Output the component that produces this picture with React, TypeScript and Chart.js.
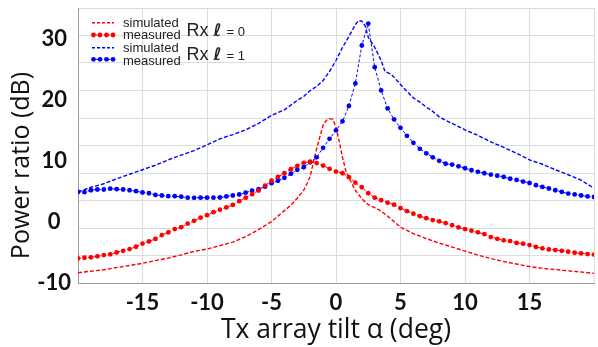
import React, { useEffect, useRef } from "react";
import { Chart, registerables } from "chart.js";

Chart.register(...registerables);

// x positions of measured samples (deg)
const measuredX = [
  -20, -19.5, -19, -18.5, -18, -17.5, -17, -16.5, -16, -15.5, -15, -14.5, -14, -13.5, -13, -12.5, -12, -11.5, -11, -10.5,
  -10, -9.5, -9, -8.5, -8, -7.5, -7, -6.5, -6, -5.5, -5, -4.5, -4, -3.5, -3, -2.5, -2, -1.5, -1, -0.5,
  0, 0.5, 1, 1.5, 2, 2.5, 3, 3.5, 4, 4.5, 5, 5.5, 6, 6.5, 7, 7.5, 8, 8.5, 9, 9.5,
  10, 10.5, 11, 11.5, 12, 12.5, 13, 13.5, 14, 14.5, 15, 15.5, 16, 16.5, 17, 17.5, 18, 18.5, 19, 19.5, 20,
];

// Rx l=0 measured (dB)
const redMeasured = [
  -5.97, -5.87, -5.8, -5.64, -5.43, -5.31, -4.99, -4.73, -4.45, -4.07, -3.55, -3.19, -2.78, -2.16, -1.72, -1.18, -0.86, -0.29, 0.17, 0.69,
  1.1, 1.59, 2.0, 2.36, 2.78, 3.39, 3.96, 4.53, 5.13, 5.95, 6.73, 7.36, 7.96, 8.61, 9.15, 9.67, 9.84, 9.62, 9.22, 8.69,
  8.24, 7.96, 7.31, 6.41, 5.67, 4.69, 3.96, 3.55, 3.14, 2.82, 2.24, 1.76, 1.35, 0.94, 0.61, 0.29, 0.09, -0.2, -0.53, -0.91,
  -1.18, -1.43, -1.71, -2.0, -2.49, -2.77, -3.01, -3.14, -3.44, -3.57, -3.8, -4.09, -4.33, -4.5, -4.61, -4.73, -4.89, -5.05, -5.15, -5.27, -5.35,
];

// Rx l=1 measured (dB)
const blueMeasured = [
  4.91, 4.86, 5.18, 5.3, 5.3, 5.43, 5.35, 5.3, 5.18, 5.02, 4.81, 4.69, 4.42, 4.32, 4.2, 4.2, 4.12, 3.96, 3.93, 3.96,
  3.96, 3.96, 3.99, 4.16, 4.32, 4.48, 4.78, 5.1, 5.35, 5.76, 6.33, 6.73, 7.22, 7.88, 8.53, 8.94, 9.76, 10.57, 12.12, 13.59,
  14.98, 16.45, 18.98, 22.65, 28.86, 32.45, 25.31, 21.51, 18.57, 16.78, 15.39, 14.08, 12.94, 11.96, 11.22, 10.57, 10.0, 9.51, 9.38, 9.1,
  8.78, 8.45, 8.2, 7.96, 7.75, 7.55, 7.36, 7.06, 6.87, 6.6, 6.36, 6.0, 5.72, 5.46, 5.18, 4.91, 4.64, 4.5, 4.32, 4.16, 4.07,
];

// Rx l=0 simulated
const redSimX = [
  -20, -19, -18, -17, -16, -15, -14, -13, -12, -11, -10, -9, -8, -7, -6, -5, -4,
  -3.5, -3, -2.5, -2.25, -2, -1.75, -1.5, -1.25, -1, -0.75, -0.5, -0.25, 0, 0.25, 0.5, 0.75, 1,
  1.5, 2, 2.5, 3, 3.5, 4, 4.5, 5,
  6, 7, 8, 9, 10, 11, 12, 13, 14, 15, 16, 17, 18, 19, 20,
];
const redSim = [
  -8.32, -8.07, -7.84, -7.47, -7.14, -6.78, -6.33, -5.92, -5.4, -4.82, -4.45, -3.88, -3.31, -2.41, -1.27, 0.04, 1.84,
  2.73, 3.88, 5.18, 6.24, 7.47, 9.76, 11.96, 13.92, 15.8, 16.61, 16.89, 16.78, 15.47, 13.18, 10.57, 8.45, 7.22,
  5.18, 3.8, 2.82, 2.33, 1.76, 0.94, 0.04, -0.86,
  -1.92, -2.73, -3.47, -4.12, -4.78, -5.43, -6.0, -6.49, -6.9, -7.31, -7.6, -7.8, -8.01, -8.2, -8.42,
];

// Rx l=1 simulated
const blueSimX = [
  -20, -19, -18, -17, -16, -15, -14, -13, -12, -11, -10, -9, -8, -7, -6, -5, -4, -3,
  -2.5, -2, -1.5, -1, -0.5, 0, 0.5, 1, 1.5, 1.75, 2, 2.25, 2.5, 3, 3.5, 3.8, 4.3,
  5, 5.5, 6, 6.5, 7, 7.5, 8, 8.5, 9,
  10, 11, 12, 13, 14, 15, 16, 17, 18, 19, 20,
];
const blueSim = [
  4.91, 5.67, 6.24, 7.06, 7.8, 8.53, 9.27, 10.16, 10.93, 11.67, 12.61, 13.59, 14.29, 15.06, 16.12, 17.43, 18.33, 19.88,
  20.53, 21.51, 22.16, 23.14, 24.61, 26.41, 28.53, 30.33, 32.29, 32.94, 32.86, 32.12, 30.21, 28.58, 26.41, 24.61, 24.12,
  22.49, 21.35, 20.29, 19.6, 18.78, 18.08, 17.18, 16.61, 16.12,
  15.06, 14.16, 13.1, 12.2, 11.22, 10.16, 9.43, 8.53, 7.71, 6.82, 5.51,
];

const xTickHidden = [-20, 20];
const yTitleText = "Power ratio (dB)";
const xTitleText = "Tx array tilt α (deg)";

const RED = "#ff0000";
const BLUE = "#0000ff";
const GRID = "#dcdcdc";
const AXIS = "#9a9a9a";
const TITLE_FONT = "'Open Sans'";

const pts = (xs: number[], ys: number[]) => xs.map((x, i) => ({ x, y: ys[i] }));

const yTitlePlugin = {
  id: "yTitle",
  afterDraw(chart: any) {
    const { ctx, chartArea } = chart;
    ctx.save();
    ctx.translate(22, (chartArea.top + chartArea.bottom) / 2 + 20);
    ctx.rotate(-Math.PI / 2);
    ctx.font = `25px ${TITLE_FONT}`;
    ctx.fillStyle = "#111";
    ctx.textAlign = "center";
    ctx.textBaseline = "middle";
    ctx.fillText(yTitleText, 0, 0);
    ctx.restore();
  },
};

function Legend() {
  const txt: React.CSSProperties = {
    position: "absolute",
    font: "13px 'Liberation Sans', Arial, sans-serif",
    lineHeight: "13px",
    color: "#222",
    whiteSpace: "nowrap",
  };
  const rx: React.CSSProperties = {
    position: "absolute",
    font: "18px 'Liberation Sans', Arial, sans-serif",
    lineHeight: "18px",
    color: "#222",
    whiteSpace: "nowrap",
  };
  const ell: React.CSSProperties = { fontStyle: "italic", fontWeight: "bold", fontFamily: "'DejaVu Sans', sans-serif", fontSize: "17px" };
  const small: React.CSSProperties = { fontSize: "13px" };
  return (
    <>
      <svg style={{ position: "absolute", left: 0, top: 0 }} width={598} height={80}>
        <line x1={92} y1={22.7} x2={114} y2={22.7} stroke={RED} strokeWidth={1.5} strokeDasharray="3 2" />
        <line x1={92} y1={35} x2={114} y2={35} stroke={RED} strokeWidth={1} strokeDasharray="2 2" />
        {[93.5, 100, 106.5, 113].map((cx) => (
          <circle key={"r" + cx} cx={cx} cy={35} r={2.4} fill={RED} />
        ))}
        <line x1={92} y1={47.7} x2={114} y2={47.7} stroke={BLUE} strokeWidth={1.5} strokeDasharray="3 2" />
        <line x1={92} y1={59.3} x2={114} y2={59.3} stroke={BLUE} strokeWidth={1} strokeDasharray="2 2" />
        {[93.5, 100, 106.5, 113].map((cx) => (
          <circle key={"b" + cx} cx={cx} cy={59.3} r={2.4} fill={BLUE} />
        ))}
      </svg>
      <span style={{ ...txt, left: 123, top: 15.8 }}>simulated</span>
      <span style={{ ...txt, left: 123, top: 27.5 }}>measured</span>
      <span style={{ ...txt, left: 123, top: 40.8 }}>simulated</span>
      <span style={{ ...txt, left: 123, top: 53.5 }}>measured</span>
      <span style={{ ...rx, left: 186.5, top: 20.8 }}>
        Rx <span style={ell}>ℓ</span> <span style={small}>= 0</span>
      </span>
      <span style={{ ...rx, left: 186.5, top: 44.8 }}>
        Rx <span style={ell}>ℓ</span> <span style={small}>= 1</span>
      </span>
    </>
  );
}

export default function App() {
  const ref = useRef<HTMLCanvasElement | null>(null);

  useEffect(() => {
    document.body.style.margin = "0";
    if (!ref.current) return;
    const tickFont = { family: "Lato", weight: "bold" as const, size: 22 };
    const chart = new Chart(ref.current, {
      type: "line",
      data: {
        datasets: [
          {
            label: "measured Rx l=0",
            data: pts(measuredX, redMeasured),
            borderColor: RED,
            backgroundColor: RED,
            borderWidth: 1,
            borderDash: [3, 2],
            pointRadius: 2.4,
            pointBorderWidth: 0,
            pointBackgroundColor: RED,
          },
          {
            label: "measured Rx l=1",
            data: pts(measuredX, blueMeasured),
            borderColor: BLUE,
            backgroundColor: BLUE,
            borderWidth: 1,
            borderDash: [3, 2],
            pointRadius: 2.4,
            pointBorderWidth: 0,
            pointBackgroundColor: BLUE,
          },
          {
            label: "simulated Rx l=0",
            data: pts(redSimX, redSim),
            borderColor: RED,
            borderWidth: 1.4,
            borderDash: [4, 2],
            pointRadius: 0,
          },
          {
            label: "simulated Rx l=1",
            data: pts(blueSimX, blueSim),
            borderColor: BLUE,
            borderWidth: 1.4,
            borderDash: [4, 2],
            pointRadius: 0,
          },
        ],
      },
      options: {
        responsive: false,
        animation: false,
        layout: { padding: { top: 8, left: 0, right: 0, bottom: 0 } },
        plugins: { legend: { display: false }, tooltip: { enabled: false } },
        elements: { line: { tension: 0 } },
        scales: {
          x: {
            type: "linear",
            min: -20,
            max: 20,
            ticks: {
              stepSize: 5,
              autoSkip: false,
              maxRotation: 0,
              padding: 7,
              color: "#111",
              font: tickFont,
              callback: (v: any) => (xTickHidden.includes(Number(v)) ? "" : String(v)),
            },
            grid: { color: GRID, drawTicks: false },
            border: { color: AXIS, width: 1 },
            title: {
              display: true,
              text: xTitleText,
              color: "#111",
              font: { family: TITLE_FONT, size: 26.5 },
              padding: { top: 0, bottom: 1 },
            },
            afterFit: (s: any) => {
              s.height = 64;
              s.paddingLeft = 0;
              s.paddingRight = 0;
            },
          },
          y: {
            type: "linear",
            min: -10,
            max: 35,
            ticks: {
              stepSize: 10,
              includeBounds: false,
              padding: 7,
              crossAlign: "center",
              color: "#111",
              font: tickFont,
            },
            grid: { display: false, drawTicks: false },
            border: { color: AXIS, width: 1 },
            afterFit: (s: any) => {
              s.width = 78;
              s.paddingTop = 0;
              s.paddingBottom = 0;
            },
          },
          y2: {
            type: "linear",
            position: "right",
            min: -15,
            max: 35,
            ticks: { stepSize: 5, display: false },
            grid: { color: GRID, drawTicks: false },
            border: { display: false },
            afterFit: (s: any) => {
              s.width = 0;
              s.paddingTop = 0;
              s.paddingBottom = 0;
            },
          },
        },
      },
      plugins: [yTitlePlugin],
    } as any);
    return () => chart.destroy();
  }, []);

  return (
    <div style={{ position: "relative", width: 598, height: 347, background: "#fff" }}>
      <canvas ref={ref} width={598} height={347} style={{ display: "block" }} />
      <Legend />
    </div>
  );
}
